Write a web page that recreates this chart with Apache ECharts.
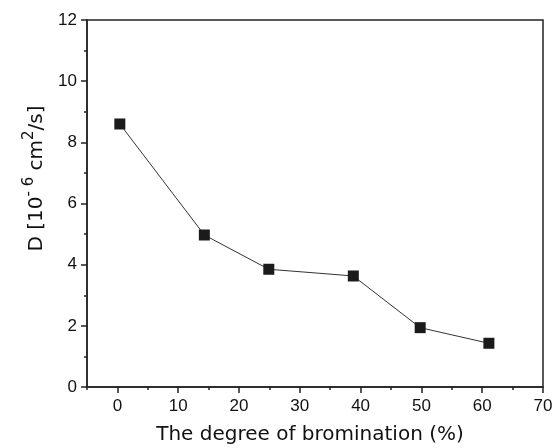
<!DOCTYPE html>
<html>
<head>
<meta charset="utf-8">
<script src="https://cdn.jsdelivr.net/npm/echarts@6/dist/echarts.min.js"></script>
<style>
  html, body { margin: 0; padding: 0; background: #fff; }
  #chart { width: 553px; height: 448px; }
</style>
</head>
<body>
<div id="chart"></div>
<script>
// degree of bromination (%) and diffusion coefficient D (10^-6 cm^2/s)
const bromination = [0.4, 14.3, 24.9, 38.8, 49.8, 61.1]
const diffusion = [8.6, 4.97, 3.85, 3.63, 1.94, 1.43]

const xMajorTicks = [0, 10, 20, 30, 40, 50, 60, 70]
const xMinorTicks = [-5, 5, 15, 25, 35, 45, 55, 65]

const axisColor = '#222'
const labelFont = 'Liberation Sans, Arial, sans-serif'
const titleFont = 'DejaVu Sans, Verdana, sans-serif'

const chart = echarts.init(document.getElementById('chart'))

const points = bromination.map((x, i) => [x, diffusion[i]])

const option = {
  animation: false,
  grid: {
    left: 87,
    right: 10,
    top: 20,
    bottom: 61,
    outerBoundsMode: 'none',
    show: true,
    borderColor: axisColor,
    borderWidth: 1.5
  },
  xAxis: [
    {
      type: 'value',
      min: -5,
      max: 70,
      interval: 5,
      name: 'The degree of bromination (%)',
      nameLocation: 'middle',
      nameGap: 38,
      nameTextStyle: { fontFamily: titleFont, fontSize: 20, color: '#111', padding: [0, 10, 0, 0] },
      axisLine: { show: true, onZero: false, lineStyle: { color: axisColor, width: 1.5 } },
      axisTick: { show: true, length: 6, customValues: xMajorTicks, lineStyle: { color: axisColor, width: 1.5 } },
      axisLabel: { customValues: xMajorTicks, margin: 11, fontFamily: labelFont, fontSize: 17, color: '#111' },
      splitLine: { show: false }
    },
    {
      type: 'value',
      min: -5,
      max: 70,
      interval: 5,
      position: 'bottom',
      axisLine: { show: false, onZero: false },
      axisTick: { show: true, length: 3, customValues: xMinorTicks, lineStyle: { color: axisColor, width: 1.5 } },
      axisLabel: { show: false },
      splitLine: { show: false }
    }
  ],
  yAxis: {
    type: 'value',
    min: 0,
    max: 12,
    interval: 2,
    name: '{t|D [10}{s|- 6}{t| cm}{s|2}{t|/s]}',
    nameLocation: 'middle',
    nameGap: 36,
    nameTextStyle: {
      padding: [0, 0, 0, 50],
      rich: {
        t: { fontFamily: titleFont, fontSize: 20, color: '#111' },
        s: { fontFamily: titleFont, fontSize: 15, color: '#111', padding: [0, 0, 14, 0] }
      }
    },
    axisLine: { show: true, onZero: false, lineStyle: { color: axisColor, width: 1.5 } },
    axisTick: { show: true, length: 6, lineStyle: { color: axisColor, width: 1.5 } },
    minorTick: { show: true, splitNumber: 2, length: 3, lineStyle: { color: axisColor, width: 1.5 } },
    axisLabel: { margin: 10, fontFamily: labelFont, fontSize: 17, color: '#111' },
    splitLine: { show: false }
  },
  series: [
    {
      type: 'line',
      data: points,
      symbol: 'rect',
      symbolSize: 11,
      itemStyle: { color: '#1b1b1b' },
      lineStyle: { color: '#333', width: 1 }
    }
  ]
}

chart.setOption(option)
</script>
</body>
</html>
